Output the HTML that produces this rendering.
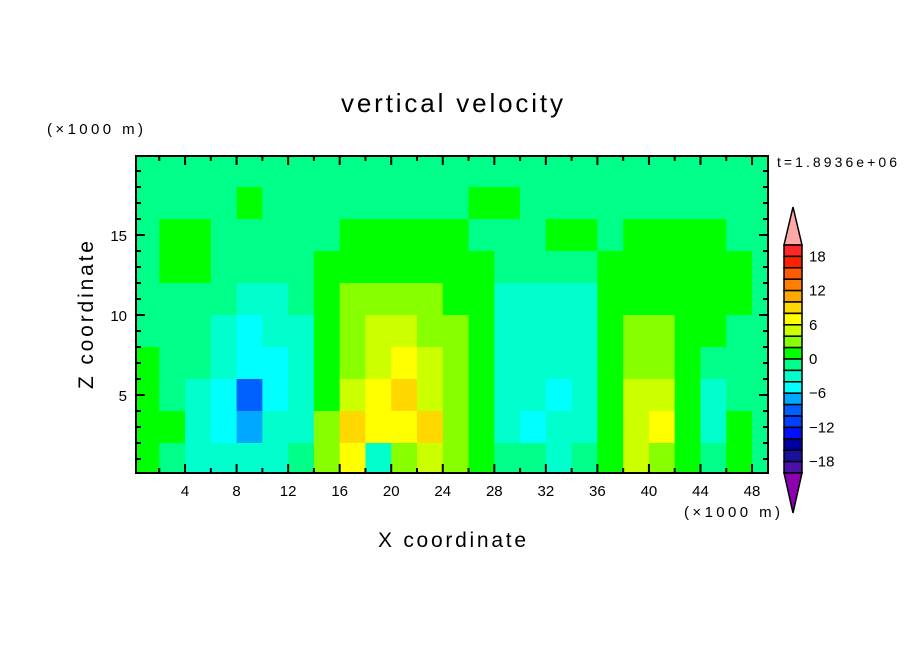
<!DOCTYPE html>
<html><head><meta charset="utf-8"><style>
body{margin:0;background:#fff;}
svg text{font-family:"Liberation Sans",sans-serif;fill:#000;}
</style></head><body>
<svg id="chart" width="904" height="654" xmlns="http://www.w3.org/2000/svg">
<rect width="904" height="654" fill="#fff"/>
<text x="341" y="112" font-size="26" textLength="222" lengthAdjust="spacing">vertical velocity</text>
<text x="47" y="134" font-size="15" textLength="96" lengthAdjust="spacing">(×1000 m)</text>
<text x="777" y="167" font-size="14" textLength="120" lengthAdjust="spacing">t=1.8936e+06</text>
<text x="684" y="517" font-size="15" textLength="96" lengthAdjust="spacing">(×1000 m)</text>
<text x="378" y="547" font-size="21" textLength="148" lengthAdjust="spacing">X coordinate</text>
<text transform="translate(93,389) rotate(-90)" font-size="21" textLength="148" lengthAdjust="spacing">Z coordinate</text>
<g id="cells"></g>
<g id="axes"></g>
<g id="cbar"></g>
</svg>
<script>
const xCenters=[1,3,5,7,9,11,13,15,17,19,21,23,25,27,29,31,33,35,37,39,41,43,45,47,49];
const zCenters=[19,17,15,13,11,9,7,5,3,1];
const wRows=[
[-1,-1,-1,-1,-1,-1,-1,-1,-1,-1,-1,-1,-1,-1,-1,-1,-1,-1,-1,-1,-1,-1,-1,-1,-1],
[-1,-1,-1,-1,1,-1,-1,-1,-1,-1,-1,-1,-1,1,1,-1,-1,-1,-1,-1,-1,-1,-1,-1,-1],
[-1,1,1,-1,-1,-1,-1,-1,1,1,1,1,1,-1,-1,-1,1,1,-1,1,1,1,1,-1,-1],
[-1,1,1,-1,-1,-1,-1,1,1,1,1,1,1,1,-1,-1,-1,-1,1,1,1,1,1,1,-1],
[-1,-1,-1,-1,-3,-3,-1,1,3,3,3,3,1,1,-3,-3,-3,-3,1,1,1,1,1,1,-1],
[-1,-1,-1,-3,-5,-3,-3,1,3,5,5,3,3,1,-3,-3,-3,-3,1,3,3,1,1,-1,-1],
[1,-1,-1,-3,-5,-5,-3,1,3,5,7,5,3,1,-3,-3,-3,-3,1,3,3,1,-1,-1,-1],
[1,-1,-3,-5,-9,-5,-3,1,5,7,9,5,3,1,-3,-3,-5,-3,1,5,5,1,-3,-1,-1],
[1,1,-3,-5,-7,-3,-3,3,9,7,7,9,3,1,-3,-5,-3,-3,1,5,7,1,-3,1,-1],
[1,-1,-3,-3,-3,-3,-1,3,7,-3,3,5,3,1,-1,-1,-3,-1,1,5,3,1,-1,1,-1]
];
const levels=[18,16,14,12,10,8,6,4,2,0,-2,-4,-6,-8,-10,-12,-14,-16,-18];
const boxColors=["#ff2828","#ff2000","#ff5a00","#ff8000","#ffa800","#ffd800","#ffff00","#ccff00","#88ff00","#00ff00","#00ff88","#00ffcc","#00ffff","#00a8ff","#0060ff","#0040ff","#0010ff","#0000a0","#1a10a0","#4a10a8"];
const xTicks=[4,8,12,16,20,24,28,32,36,40,44,48];
const zTicks=[5,10,15];
const cbLabels=[18,12,6,0,-6,-12,-18];

const NS="http://www.w3.org/2000/svg";
const L=136,R=768,T=156,B=473;
const xs=v=>133.5+12.886*v;
const zs=v=>475-16*v;
function colorFor(v){
  if(v>20) return "#ffa8a8";
  if(v<-20) return "#8c00b0";
  for(let i=0;i<levels.length;i++){ if(v>=levels[i]) return boxColors[i]; }
  return boxColors[19];
}
function mk(tag,attrs,parent){const e=document.createElementNS(NS,tag);for(const k in attrs)e.setAttribute(k,attrs[k]);parent.appendChild(e);return e;}
const cells=document.getElementById('cells');
zCenters.forEach((z,ri)=>{
  xCenters.forEach((x,ci)=>{
    const x0=Math.max(L,xs(x-1)),x1=Math.min(R,xs(x+1));
    const y0=Math.max(T,zs(z+1)),y1=Math.min(B,zs(z-1));
    const r=mk('rect',{x:x0,y:y0,width:x1-x0+0.5,height:y1-y0+0.5,fill:colorFor(wRows[ri][ci])},cells);
    
    
  });
});
const axes=document.getElementById('axes');
const frame=mk('rect',{x:L,y:T,width:R-L,height:B-T,fill:'none',stroke:'#000','stroke-width':2},axes);


for(let v=2;v<=48;v+=2){
  const len=(v%4===0)?9:5,px=xs(v);
  mk('line',{x1:px,x2:px,y1:B,y2:B-len,stroke:'#000','stroke-width':2},axes);
  mk('line',{x1:px,x2:px,y1:T,y2:T+len,stroke:'#000','stroke-width':2},axes);
}
for(let v=1;v<=19;v++){
  const len=(v%5===0)?9:5,py=zs(v);
  mk('line',{x1:L,x2:L+len,y1:py,y2:py,stroke:'#000','stroke-width':2},axes);
  mk('line',{x1:R,x2:R-len,y1:py,y2:py,stroke:'#000','stroke-width':2},axes);
}
xTicks.forEach(v=>{
  const t=mk('text',{x:xs(v),y:496,'font-size':15,'text-anchor':'middle'},axes);
  t.textContent=v;
  
  
});
zTicks.forEach(v=>{
  const t=mk('text',{x:127,y:zs(v)+6,'font-size':15,'text-anchor':'end'},axes);
  t.textContent=v;
  
  
});
const cb=document.getElementById('cbar');
const cx0=784,cx1=802,cT=245,cB=473,bh=(cB-cT)/20;
const topTri=mk('polygon',{points:`${cx0},${cT} ${cx1},${cT} ${(cx0+cx1)/2},207`,fill:'#ffa8a8',stroke:'#000','stroke-width':1.5},cb);


boxColors.forEach((c,i)=>{
  const r=mk('rect',{x:cx0,y:cT+i*bh,width:cx1-cx0,height:bh,fill:c,stroke:'#000','stroke-width':1.5},cb);
  
  
});
const botTri=mk('polygon',{points:`${cx0},${cB} ${cx1},${cB} ${(cx0+cx1)/2},513`,fill:'#8c00b0',stroke:'#000','stroke-width':1.5},cb);


cbLabels.forEach(v=>{
  const i=levels.indexOf(v);
  const t=mk('text',{x:809,y:cT+(i+1)*bh+5,'font-size':15},cb);
  t.textContent=v<0?('\u2212'+(-v)):v;
  
  
});
</script>
</body></html>
